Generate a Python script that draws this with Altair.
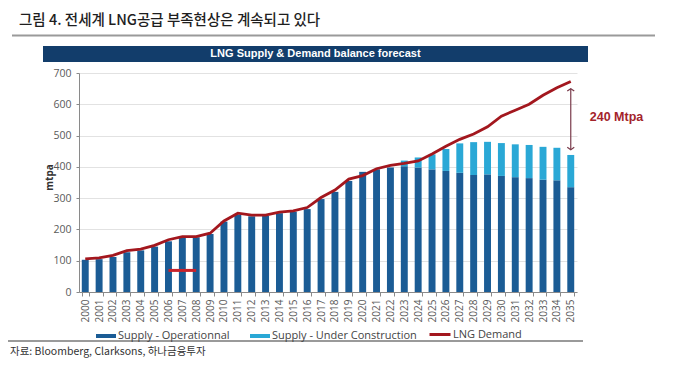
import altair as alt
import pandas as pd

# ---------------- data ----------------
years = [str(y) for y in range(2000, 2036)]
operational = [103, 105, 112, 127, 133, 145, 162, 174, 175, 185,
               225, 248, 242, 243, 252, 257, 265, 297, 320, 355,
               384, 392, 398, 402, 398, 392, 387, 381, 374, 376,
               371, 367, 364, 359, 357, 335]
under_construction = [0] * 23 + [18, 32, 48, 70, 94, 105, 104, 105, 105, 106, 105, 104, 103]
demand = [106, 109, 117, 132, 137, 149, 167, 177, 177, 188,
          227, 252, 246, 246, 255, 259, 270, 302, 326, 361,
          372, 394, 405, 411, 419, 441, 466, 488, 505, 528,
          562, 581, 600, 629, 653, 673]

bar_series = ["Supply - Operationnal", "Supply - Under Construction"]
line_series = ["LNG Demand"]
y_ticks = [0, 100, 200, 300, 400, 500, 600, 700]

gap_year = ["2035"]
gap_top = [650]
gap_bottom = [455]
gap_label = ["240 Mtpa"]
gap_label_value = [560]

stray_from = ["2006"]
stray_to = ["2008"]
stray_value = [69]

title_text = "그림 4. 전세계 LNG공급 부족현상은 계속되고 있다"
banner_text = "LNG Supply & Demand balance forecast"
source_text = "자료: Bloomberg, Clarksons, 하나금융투자"
y_title = "mtpa"

# ---------------- styles ----------------
bar_colors = ["#1B5C95", "#2AA8D6"]
line_color = "#A3171E"
arrow_color = "#7A3B4B"
axis_font = "Open Sans"
W, H = 498, 219

rows = []
for i, yr in enumerate(years):
    rows.append({"year": yr, "series": bar_series[0], "value": operational[i], "ord": 0})
    rows.append({"year": yr, "series": bar_series[1], "value": under_construction[i], "ord": 1})
df_bars = pd.DataFrame(rows)
df_line = pd.DataFrame({"year": years, "value": demand, "series": line_series * len(years)})

x_scale = alt.Scale(domain=years, paddingInner=0.5, paddingOuter=0.2)
y_scale = alt.Scale(domain=[0, 700], nice=False)

x_axis = alt.Axis(labelAngle=270, labelFont=axis_font, labelFontSize=10, labelColor="#5A5A5A",
                  labelPadding=3, tickBand="extent", tickSize=4, tickColor="#8A8A8A",
                  domainColor="#8A8A8A", grid=False, title=None)
y_axis = alt.Axis(values=y_ticks, labelFont=axis_font, labelFontSize=10.5, labelColor="#5A5A5A",
                  labelPadding=5, tickSize=3, tickColor="#8A8A8A", domainColor="#8A8A8A",
                  grid=True, gridColor="#E2E2E2", title=y_title, titleFont=axis_font,
                  titleFontSize=10, titleFontWeight="bold", titleColor="#333333",
                  titleX=-30, titleY=104, titleAlign="center", titleBaseline="middle", titleAngle=270)

X = alt.X("year:O", scale=x_scale, axis=x_axis, title=None)
Y = alt.Y("value:Q", scale=y_scale, axis=y_axis, title=y_title)

bars = alt.Chart(df_bars).mark_bar().encode(
    x=X,
    y=alt.Y("value:Q", scale=y_scale, axis=y_axis, title=y_title, stack="zero"),
    color=alt.Color("series:N", scale=alt.Scale(domain=bar_series, range=bar_colors),
                    legend=alt.Legend(orient="none", legendX=17, legendY=253, direction="horizontal",
                                      title=None, symbolType="M-1,-0.2H1V0.2H-1Z", symbolSize=400,
                                      symbolStrokeWidth=0, labelFont=axis_font, labelFontSize=11,
                                      labelColor="#444444", labelOffset=2, columnPadding=20)),
    order=alt.Order("ord:Q", sort="ascending"),
)

line = alt.Chart(df_line).mark_line(strokeWidth=2.8).encode(
    x=X, y=Y,
    stroke=alt.Stroke("series:N", scale=alt.Scale(domain=line_series, range=[line_color]),
                      legend=alt.Legend(orient="none", legendX=349, legendY=249.5, title=None,
                                        symbolType="stroke", symbolSize=441, symbolStrokeWidth=3,
                                        labelFont=axis_font, labelFontSize=11, labelColor="#444444",
                                        labelOffset=1)),
)

df_gap = pd.DataFrame({"year": gap_year, "value": gap_top, "value2": gap_bottom})
arrow = alt.Chart(df_gap).mark_rule(color=arrow_color, strokeWidth=1.2).encode(
    x=X, y=Y, y2="value2:Q")
head_top = alt.Chart(pd.DataFrame({"year": gap_year, "value": gap_top})).mark_point(
    shape="M-1,0.7L0,0L1,0.7", filled=False, color=arrow_color, strokeWidth=1.2, size=49, opacity=1
).encode(x=X, y=Y)
head_bot = alt.Chart(pd.DataFrame({"year": gap_year, "value": gap_bottom})).mark_point(
    shape="M-1,-0.7L0,0L1,-0.7", filled=False, color=arrow_color, strokeWidth=1.2, size=49, opacity=1
).encode(x=X, y=Y)
gap_text = alt.Chart(pd.DataFrame({"year": gap_year, "value": gap_label_value, "t": gap_label})).mark_text(
    align="left", baseline="middle", dx=19, font="Liberation Sans", fontWeight="bold",
    fontSize=12.5, color="#A3232B"
).encode(x=X, y=Y, text="t:N")

stray = alt.Chart(pd.DataFrame({"year": stray_from, "year2": stray_to, "value": stray_value})).mark_rule(
    color="#C8232B", strokeWidth=3).encode(x=X, x2="year2:O", y=Y)

one = pd.DataFrame({"t": [0]})
title = alt.Chart(pd.DataFrame({"t": [title_text]})).mark_text(
    align="left", baseline="middle", font="Noto Sans CJK KR", fontSize=14.5, fontWeight=500,
    color="#1E1E1E").encode(x=alt.value(-60), y=alt.value(-52), text="t:N")
top_line = alt.Chart(one).mark_rule(color="#9A9A9A", strokeWidth=2).encode(
    x=alt.value(-67), x2=alt.value(576), y=alt.value(-37.5))
banner = alt.Chart(one).mark_rect(color="#123D6B").encode(
    x=alt.value(-36), x2=alt.value(509), y=alt.value(-27), y2=alt.value(-11))
banner_txt = alt.Chart(pd.DataFrame({"t": [banner_text]})).mark_text(
    align="center", baseline="middle", font="Liberation Sans", fontSize=11, fontWeight="bold",
    color="white").encode(x=alt.value(236.5), y=alt.value(-19), text="t:N")
bottom_line = alt.Chart(one).mark_rule(color="#9A9A9A", strokeWidth=2).encode(
    x=alt.value(-71), x2=alt.value(504), y=alt.value(268))
source = alt.Chart(pd.DataFrame({"t": [source_text]})).mark_text(
    align="left", baseline="middle", font="Noto Sans CJK KR", fontSize=10.5,
    color="#333333").encode(x=alt.value(-69), y=alt.value(279), text="t:N")

chart = alt.layer(
    bars, line, stray, arrow, head_top, head_bot, gap_text,
    title, top_line, banner, banner_txt, bottom_line, source
).properties(
    width=W, height=H,
    autosize=alt.AutoSizeParams(type="none"),
    padding={"left": 71, "top": 65, "right": 95, "bottom": 80},
).configure_view(stroke=None)

chart.save("out.html", embed_options={"renderer": "svg", "actions": False})
